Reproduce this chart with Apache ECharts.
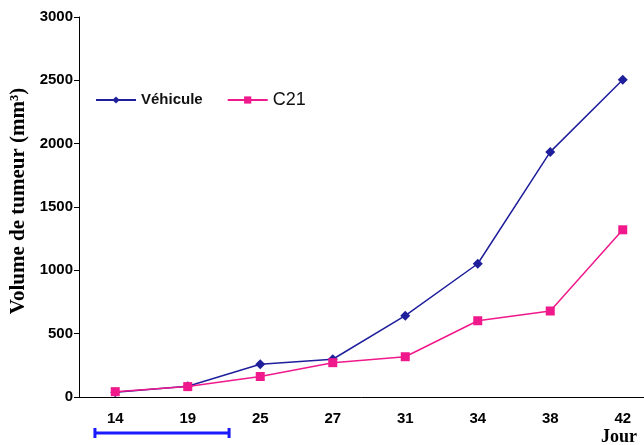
<!DOCTYPE html>
<html>
<head>
<meta charset="utf-8">
<script src="https://cdn.jsdelivr.net/npm/echarts@6/dist/echarts.min.js"></script>
<style>
  html, body { margin: 0; padding: 0; background: #fff; }
  #chart { width: 644px; height: 445px; }
</style>
</head>
<body>
<div id="chart"></div>
<script>
const days = ['14', '19', '25', '27', '31', '34', '38', '42']
const vehicule = [38, 85, 258, 298, 642, 1052, 1935, 2505]
const c21 = [42, 82, 162, 271, 318, 602, 679, 1320]
const yTicks = [0, 500, 1000, 1500, 2000, 2500, 3000]
// treatment period, as fractional category index
const treatStart = -0.28
const treatEnd = 1.57

const gridLeft = 79
const gridRight = -15
const chartWidth = 644
const band = (chartWidth - gridLeft - gridRight) / days.length
const idxToX = i => gridLeft + (i + 0.5) * band
const x0 = idxToX(treatStart)
const x1 = idxToX(treatEnd)

const chart = echarts.init(document.getElementById('chart'))
const option = {
  animation: false,
  grid: {
    left: gridLeft, right: gridRight, top: 17, bottom: 48,
    containLabel: false, outerBoundsMode: 'none'
  },
  legend: {
    left: 90,
    top: 86,
    itemWidth: 40,
    itemHeight: 9,
    itemGap: 24,
    textStyle: { color: '#111', fontFamily: 'Liberation Sans' },
    data: [
      { name: 'Véhicule', textStyle: { fontWeight: 'bold', fontSize: 15 } },
      { name: 'C21', textStyle: { fontSize: 18 } }
    ]
  },
  xAxis: {
    type: 'category',
    data: days,
    boundaryGap: true,
    axisLine: { lineStyle: { color: '#000', width: 1 } },
    axisTick: { alignWithLabel: true, length: 5, lineStyle: { color: '#000' } },
    axisLabel: { color: '#000', fontWeight: 'bold', fontSize: 15, fontFamily: 'Liberation Sans', margin: 14 },
    splitLine: { show: false }
  },
  yAxis: {
    type: 'value',
    min: yTicks[0],
    max: yTicks[yTicks.length - 1],
    interval: 500,
    name: 'Volume de tumeur (mm³)',
    nameLocation: 'middle',
    nameGap: 50,
    nameRotate: 90,
    nameTextStyle: { color: '#000', fontWeight: 'bold', fontSize: 21, fontFamily: 'Liberation Serif', padding: [0, 0, 0, 12] },
    axisLine: { show: true, lineStyle: { color: '#000', width: 1 } },
    axisTick: { show: true, length: 5, lineStyle: { color: '#000' } },
    axisLabel: {
      color: '#000', fontWeight: 'bold', fontSize: 15, fontFamily: 'Liberation Sans', margin: 6,
      formatter: v => String(v)
    },
    splitLine: { show: false }
  },
  series: [
    {
      name: 'Véhicule',
      type: 'line',
      data: vehicule,
      symbol: 'diamond',
      symbolSize: 10,
      color: '#1f1f9c',
      lineStyle: { width: 1.5, color: '#1f1f9c' },
      itemStyle: { color: '#1f1f9c' },
      z: 2
    },
    {
      name: 'C21',
      type: 'line',
      data: c21,
      symbol: 'rect',
      symbolSize: 9,
      color: '#f0198c',
      lineStyle: { width: 1.5, color: '#f0198c' },
      itemStyle: { color: '#f0198c' },
      z: 3
    }
  ],
  graphic: [
    {
      type: 'line',
      shape: { x1: x0, y1: 433, x2: x1, y2: 433 },
      style: { stroke: '#1a1aff', lineWidth: 3 }
    },
    {
      type: 'line',
      shape: { x1: x0, y1: 428, x2: x0, y2: 438 },
      style: { stroke: '#1a1aff', lineWidth: 3 }
    },
    {
      type: 'line',
      shape: { x1: x1, y1: 428, x2: x1, y2: 438 },
      style: { stroke: '#1a1aff', lineWidth: 3 }
    },
    {
      type: 'text',
      left: 601,
      top: 428,
      style: { text: 'Jour', fill: '#000', font: 'bold 18px "Liberation Serif"' }
    }
  ]
}
chart.setOption(option)
</script>
</body>
</html>
